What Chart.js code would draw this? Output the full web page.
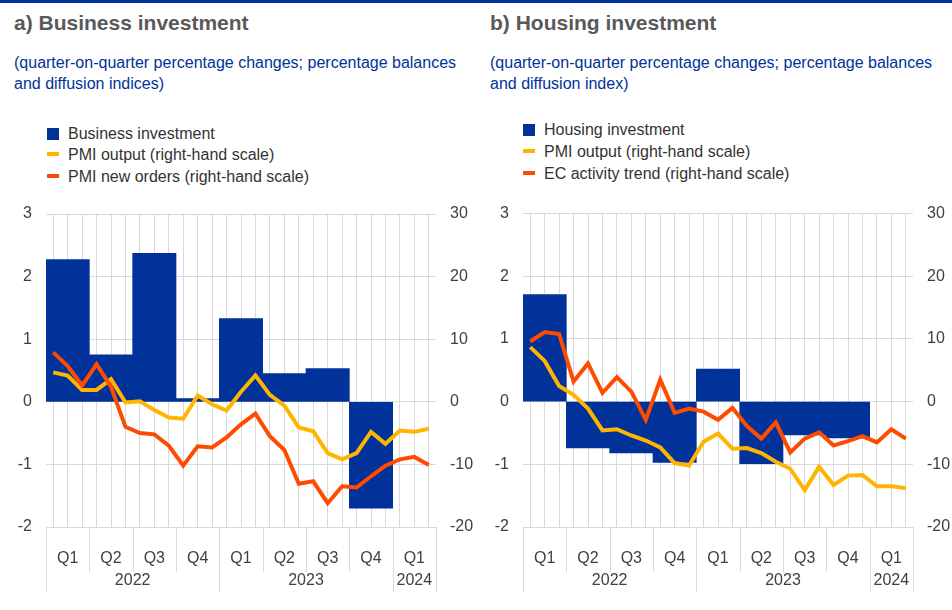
<!DOCTYPE html>
<html>
<head>
<meta charset="utf-8">
<script src="https://cdn.jsdelivr.net/npm/chart.js@4.4.1/dist/chart.umd.min.js"></script>
<style>
  body { margin: 0; width: 952px; height: 610px; overflow: hidden; background: #fff;
         font-family: "Liberation Sans", Arial, sans-serif; }
  .topline { position: absolute; left: 0; top: 0; width: 952px; height: 3px; background: #003299; }
  .panel { position: absolute; top: 0; width: 476px; height: 610px; }
  .title { position: absolute; left: 14px; top: 12px; font-size: 21px; font-weight: bold;
           color: #595959; line-height: 1; white-space: nowrap; }
  .sub { position: absolute; left: 14px; top: 52px; font-size: 16px; line-height: 21px;
         color: #003299; white-space: nowrap; }
  .row { position: absolute; left: 68px; font-size: 16px; line-height: 21px; color: #333;
         white-space: nowrap; }
  .mark { position: absolute; left: 47px; width: 12px; }
  canvas { position: absolute; left: 0; top: 190px; }
</style>
</head>
<body>
<div class="topline"></div>
<div class="panel" id="pa" style="left:0"></div>
<div class="panel" id="pb" style="left:476px"></div>
<script>
// x axis: quarters Q1 2022 - Q1 2024, lines are monthly (Jan 2022 - Mar 2024)
var quarters = ['Q1', 'Q2', 'Q3', 'Q4', 'Q1', 'Q2', 'Q3', 'Q4', 'Q1'];
var years = ['2022', '2023', '2024'];
var quartersPerYear = [4, 4, 1];

// a) business investment (q-o-q % changes, lhs) and PMI (rhs)
var businessInvestment = [2.27, 0.75, 2.37, 0.05, 1.33, 0.45, 0.53, -1.70, null];
var pmiOutputBusiness = [4.7, 4.2, 1.9, 1.9, 3.6, -0.1, 0.1, -1.3, -2.5, -2.7, 1.0, -0.4, -1.4,
  1.6, 4.2, 1.1, -0.6, -4.1, -4.7, -8.2, -9.2, -8.2, -4.8, -6.7, -4.6, -4.8, -4.3];
var pmiNewOrders = [7.9, 5.7, 2.6, 6.0, 2.4, -4.0, -5.0, -5.2, -7.0, -10.2, -7.1, -7.3, -5.7,
  -3.6, -1.9, -5.5, -7.7, -13.1, -12.7, -16.2, -13.5, -13.7, -11.9, -10.2, -9.2, -8.8, -10.1];

// b) housing investment (lhs), PMI output and EC activity trend (rhs)
var housingInvestment = [1.71, -0.74, -0.82, -0.97, 0.52, -0.99, -0.53, -0.58, null];
var pmiOutputHousing = [8.7, 6.5, 2.5, 1.1, -1.1, -4.6, -4.4, -5.4, -6.2, -7.3, -9.8, -10.2, -6.4,
  -5.1, -7.5, -7.4, -8.2, -9.6, -10.7, -14.1, -10.4, -13.3, -11.8, -11.7, -13.5, -13.5, -13.8];
var ecActivityTrend = [9.6, 11.1, 10.8, 3.2, 6.1, 1.4, 3.9, 1.6, -2.9, 3.5, -1.8, -1.1, -1.6,
  -2.9, -1.0, -3.9, -5.9, -3.3, -8.1, -5.9, -4.9, -7.0, -6.3, -5.5, -6.5, -4.4, -5.9];

var BLUE = '#003299', YELLOW = '#FFB400', ORANGE = '#FF4B00', GRID = '#d9d9d9';

Chart.defaults.font.family = '"Liberation Sans", Arial, sans-serif';
Chart.defaults.font.size = 16;
Chart.defaults.color = '#404040';

// quarter / year labels under the plot, with the separator lines
var quarterAxis = {
  id: 'quarterAxis',
  afterDraw: function (chart) {
    var ctx = chart.ctx, x = chart.scales.x, b = chart.chartArea.bottom;
    var yearBounds = [0], n = 0;
    quartersPerYear.forEach(function (q) { n += q; yearBounds.push(n); });
    ctx.save();
    ctx.strokeStyle = GRID;
    ctx.lineWidth = 1;
    for (var q = 0; q <= quarters.length; q++) {
      var px = Math.round(x.getPixelForValue(q * 3)) + 0.5;
      var len = yearBounds.indexOf(q) >= 0 ? 65 : 45;
      ctx.beginPath();
      ctx.moveTo(px, b);
      ctx.lineTo(px, b + len);
      ctx.stroke();
    }
    ctx.fillStyle = '#404040';
    ctx.font = '16px "Liberation Sans", Arial, sans-serif';
    ctx.textAlign = 'center';
    ctx.textBaseline = 'middle';
    quarters.forEach(function (lab, i) {
      ctx.fillText(lab, x.getPixelForValue(i * 3 + 1.5), b + 32);
    });
    var start = 0;
    years.forEach(function (yr, i) {
      var k = quartersPerYear[i];
      ctx.fillText(yr, x.getPixelForValue((start + k / 2) * 3), b + 54);
      start += k;
    });
    ctx.restore();
  }
};

function makePanel(el, p) {
  el.innerHTML = '<div class="title">' + p.title + '</div>' +
    '<div class="sub">' + p.sub.join('<br>') + '</div>';

  var datasets = [
    {
      type: 'bar', label: p.barLabel, order: 3,
      data: p.bars.map(function (v, i) { return { x: i * 3 + 1.5, y: v }; }),
      backgroundColor: BLUE, borderWidth: 0,
      barPercentage: 1, categoryPercentage: 1, yAxisID: 'y'
    }
  ];
  p.lines.forEach(function (l, k) {
    datasets.push({
      type: 'line', label: l.label, order: 2 - k,
      data: l.data.map(function (v, i) { return { x: i + 0.5, y: v }; }),
      borderColor: l.color, borderWidth: 4, pointRadius: 0, tension: 0,
      fill: false, yAxisID: 'y2'
    });
  });

  // legend
  datasets.forEach(function (d, i) {
    var top = p.legendTop + i * p.legendStep;
    var isBar = d.type === 'bar';
    var mark = document.createElement('div');
    mark.className = 'mark';
    mark.style.top = (top + (isBar ? 5 : 8)) + 'px';
    mark.style.height = (isBar ? 12 : 4) + 'px';
    mark.style.background = isBar ? d.backgroundColor : d.borderColor;
    el.appendChild(mark);
    var row = document.createElement('div');
    row.className = 'row';
    row.style.top = top + 'px';
    row.textContent = d.label;
    el.appendChild(row);
  });

  var canvas = document.createElement('canvas');
  canvas.width = 476;
  canvas.height = 420;
  el.appendChild(canvas);

  var nMonths = p.lines[0].data.length;
  return new Chart(canvas, {
    type: 'bar',
    data: { datasets: datasets },
    options: {
      responsive: false,
      animation: false,
      layout: { padding: { top: p.top, bottom: 83, left: 0, right: 0 } },
      plugins: { legend: { display: false }, tooltip: { enabled: false } },
      scales: {
        x: {
          type: 'linear', min: 0, max: nMonths, offset: false,
          ticks: { display: false, stepSize: 3 },
          grid: { display: false }, border: { display: false },
          afterFit: function (s) { s.height = 0; }
        },
        xm: {
          type: 'linear', position: 'bottom', min: 0, max: nMonths, offset: false,
          ticks: { display: false, stepSize: 1, autoSkip: false },
          grid: { color: GRID, drawTicks: false }, border: { display: false },
          afterFit: function (s) { s.height = 0; }
        },
        y: {
          position: 'left', min: -2, max: 3,
          ticks: { stepSize: 1, padding: 14 },
          grid: { color: GRID, drawTicks: false }, border: { display: false },
          afterFit: function (s) { s.width = p.yWidth; }
        },
        y2: {
          position: 'right', min: -20, max: 30,
          ticks: { stepSize: 10, padding: 14 },
          grid: { display: false, drawTicks: false }, border: { display: false },
          afterFit: function (s) { s.width = p.y2Width; }
        }
      }
    },
    plugins: [quarterAxis]
  });
}

makePanel(document.getElementById('pa'), {
  title: 'a) Business investment',
  sub: ['(quarter-on-quarter percentage changes; percentage balances', 'and diffusion indices)'],
  barLabel: 'Business investment',
  bars: businessInvestment,
  lines: [
    { label: 'PMI output (right-hand scale)', data: pmiOutputBusiness, color: YELLOW },
    { label: 'PMI new orders (right-hand scale)', data: pmiNewOrders, color: ORANGE }
  ],
  legendTop: 123, legendStep: 21.3, top: 24, yWidth: 46, y2Width: 40
});

makePanel(document.getElementById('pb'), {
  title: 'b) Housing investment',
  sub: ['(quarter-on-quarter percentage changes; percentage balances', 'and diffusion index)'],
  barLabel: 'Housing investment',
  bars: housingInvestment,
  lines: [
    { label: 'PMI output (right-hand scale)', data: pmiOutputHousing, color: YELLOW },
    { label: 'EC activity trend (right-hand scale)', data: ecActivityTrend, color: ORANGE }
  ],
  legendTop: 119, legendStep: 22, top: 22, yWidth: 47, y2Width: 39
});
</script>
</body>
</html>
